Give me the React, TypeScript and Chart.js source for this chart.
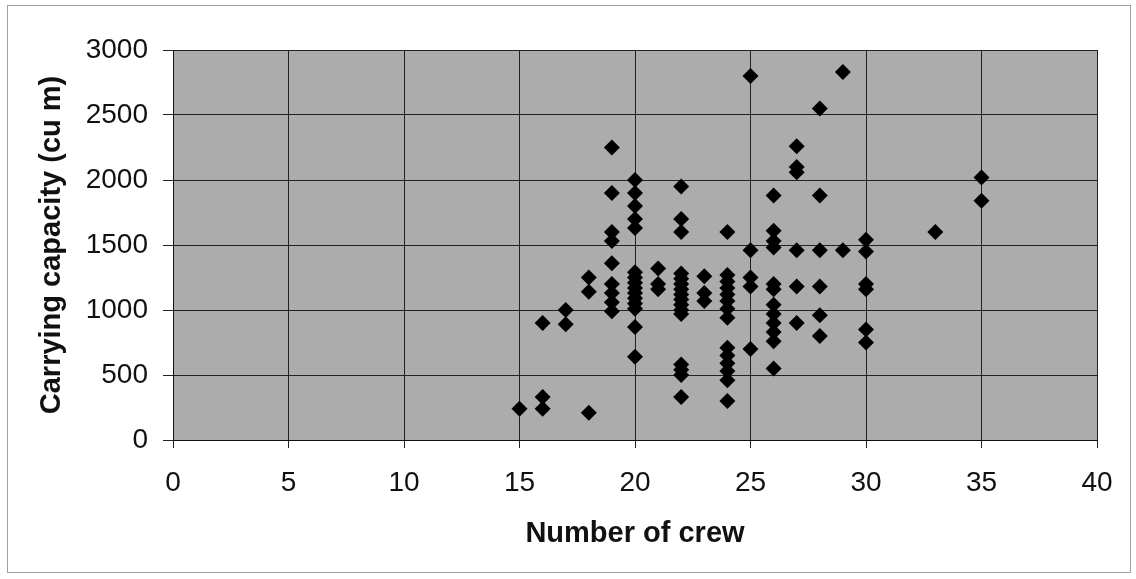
import { useEffect, useRef } from 'react';
import { Chart, registerables } from 'chart.js';

Chart.register(...registerables);

// Crew size and carrying capacity of each vessel, listed as parallel arrays.
const crewSizes = [
  15,
  16, 16, 16,
  17, 17,
  18, 18, 18,
  19, 19, 19, 19, 19, 19, 19, 19, 19,
  20, 20, 20, 20, 20, 20, 20, 20, 20, 20, 20, 20, 20, 20, 20,
  21, 21, 21,
  22, 22, 22, 22, 22, 22, 22, 22, 22, 22, 22, 22, 22, 22, 22, 22,
  23, 23, 23,
  24, 24, 24, 24, 24, 24, 24, 24, 24, 24, 24, 24, 24, 24,
  25, 25, 25, 25, 25,
  26, 26, 26, 26, 26, 26, 26, 26, 26, 26, 26, 26,
  27, 27, 27, 27, 27, 27,
  28, 28, 28, 28, 28, 28,
  29, 29,
  30, 30, 30, 30, 30, 30,
  33,
  35, 35,
];

const capacities = [
  240,
  900, 330, 240,
  1000, 890,
  1250, 1140, 210,
  2250, 1900, 1600, 1530, 1360, 1200, 1130, 1060, 990,
  2000, 1900, 1800, 1700, 1630, 1290, 1250, 1210, 1170, 1130, 1090, 1050, 1010, 870, 640,
  1320, 1200, 1160,
  1950, 1700, 1600, 1280, 1240, 1200, 1160, 1120, 1080, 1040, 1000, 970, 580, 540, 500, 330,
  1260, 1130, 1070,
  1600, 1270, 1220, 1170, 1120, 1070, 1010, 940, 710, 650, 590, 530, 460, 300,
  2800, 1460, 1250, 1180, 700,
  1880, 1610, 1530, 1480, 1200, 1160, 1040, 970, 900, 830, 760, 550,
  2260, 2100, 2060, 1460, 1180, 900,
  2550, 1880, 1460, 1180, 960, 800,
  2830, 1460,
  1540, 1450, 1200, 1160, 850, 750,
  1600,
  2020, 1840,
];

const xTickValues = [0, 5, 10, 15, 20, 25, 30, 35, 40];
const yTickValues = [0, 500, 1000, 1500, 2000, 2500, 3000];

const FONT = "'Liberation Sans', Arial, sans-serif";

export default function App() {
  const canvasRef = useRef<HTMLCanvasElement>(null);

  useEffect(() => {
    const canvas = canvasRef.current;
    if (!canvas) return;

    const points = crewSizes.map((x, i) => ({ x, y: capacities[i] }));

    // White page, thin outer frame and the grey plot-area fill.
    const backdrop = {
      id: 'backdrop',
      beforeDraw(chart: any) {
        const { ctx, chartArea: a, width, height } = chart;
        ctx.save();
        ctx.fillStyle = '#ffffff';
        ctx.fillRect(0, 0, width, height);
        ctx.strokeStyle = '#a0a0a0';
        ctx.lineWidth = 1;
        ctx.strokeRect(7.5, 5.5, 1123, 567);
        ctx.fillStyle = '#acacac';
        ctx.fillRect(a.left, a.top, a.right - a.left, a.bottom - a.top);
        ctx.restore();
      },
    };

    const plainNumber = (value: number | string) => String(value);

    const chart = new Chart(canvas, {
      type: 'scatter',
      data: {
        datasets: [
          {
            data: points,
            pointStyle: 'rectRot',
            pointRadius: 8,
            pointHoverRadius: 8,
            backgroundColor: '#000000',
            borderColor: '#000000',
            borderWidth: 0,
          },
        ],
      },
      options: {
        responsive: false,
        animation: false,
        devicePixelRatio: 1,
        layout: { padding: { left: 10, top: 50, right: 39, bottom: 20 } },
        plugins: {
          legend: { display: false },
          tooltip: { enabled: false },
        },
        scales: {
          x: {
            type: 'linear',
            position: 'bottom',
            min: 0,
            max: 40,
            afterBuildTicks: (scale: any) => {
              scale.ticks = xTickValues.map((value) => ({ value }));
            },
            afterFit: (scale: any) => {
              scale.height = 119;
            },
            ticks: {
              font: { family: FONT, size: 28 },
              color: '#111111',
              padding: 18,
              maxRotation: 0,
              autoSkip: false,
              callback: plainNumber,
            },
            grid: { color: '#222222', lineWidth: 1, tickLength: 8 },
            border: { color: '#111111', width: 1 },
            title: {
              display: true,
              text: 'Number of crew',
              font: { family: FONT, size: 29, weight: 'bold' },
              color: '#111111',
              padding: { top: 0, bottom: 8 },
            },
          },
          y: {
            type: 'linear',
            min: 0,
            max: 3000,
            afterBuildTicks: (scale: any) => {
              scale.ticks = yTickValues.map((value) => ({ value }));
            },
            afterFit: (scale: any) => {
              scale.width = 163;
            },
            ticks: {
              font: { family: FONT, size: 28 },
              color: '#111111',
              padding: 15,
              autoSkip: false,
              callback: plainNumber,
            },
            grid: { color: '#222222', lineWidth: 1, tickLength: 10 },
            border: { color: '#111111', width: 1 },
            title: {
              display: true,
              text: 'Carrying capacity (cu m)',
              font: { family: FONT, size: 29, weight: 'bold' },
              color: '#111111',
              padding: { top: 25, bottom: 0 },
            },
          },
        },
      },
      plugins: [backdrop],
    });

    return () => chart.destroy();
  }, []);

  return (
    <div
      style={{
        position: 'absolute',
        left: 0,
        top: 0,
        width: 1136,
        height: 579,
        background: '#ffffff',
      }}
    >
      <canvas ref={canvasRef} width={1136} height={579} style={{ display: 'block' }} />
    </div>
  );
}
